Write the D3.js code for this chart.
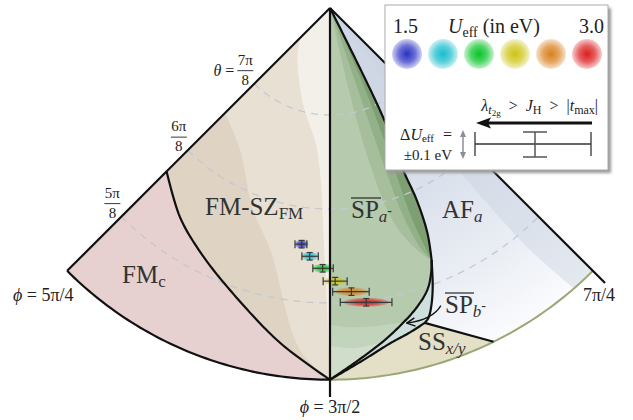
<!DOCTYPE html>
<html>
<head>
<meta charset="utf-8">
<script src="https://cdn.jsdelivr.net/npm/d3@7"></script>
<style>
body { margin: 0; background: #fff; }
text { font-family: "Liberation Serif", "DejaVu Serif", serif; fill: #222; }
</style>
</head>
<body>
<div id="chart"></div>
<script>
// angles are in units of pi: [phi, theta]
var phiLimits = [5/4, 3/2, 7/4];
var thetaEdge = 1/2;      // end of the phi axes
var thetaOuter = 0.523;   // outer rim of the coloured map
var thetaGrid = [7/8, 6/8, 5/8];
var thetaGridNum = ["7π", "6π", "5π"];

// phase boundaries
var fmcLine = [[1.25,0.710],[1.302,0.675],[1.344,0.650],[1.392,0.619],[1.453,0.567],[1.5,0.523]];
var spaUpper = [[1.5,1],[1.644,0.856],[1.635,0.781],[1.635,0.737],[1.630,0.691],[1.622,0.656]];
var spaLower = [[1.622,0.656],[1.616,0.640],[1.606,0.621],[1.590,0.603],[1.572,0.587],[1.550,0.568],[1.524,0.546],[1.5,0.523]];
var spbUpper = [[1.622,0.656],[1.612,0.621],[1.604,0.598],[1.598,0.585],[1.593,0.580]];
var spbLower = [[1.593,0.580],[1.577,0.573],[1.556,0.564],[1.530,0.547],[1.5,0.523]];
var ssLine = [[1.593,0.580],[1.645,0.523]];

// shading bands inside phases
var fmszBand1 = [[1.25,0.82],[1.32,0.794],[1.384,0.730],[1.423,0.686],[1.472,0.561],[1.5,0.523]];
var fmszBand2 = [[1.5,1],[1.26,0.949],[1.406,0.888],[1.471,0.828],[1.493,0.686],[1.5,0.523]];
var spaBands = [
  [[1.5,1],[1.572,0.9],[1.58,0.8],[1.592,0.72],[1.61,0.675],[1.622,0.656]],
  [[1.5,1],[1.605,0.9],[1.605,0.8],[1.608,0.72],[1.615,0.675],[1.622,0.656]],
  [[1.5,1],[1.63,0.9],[1.622,0.8],[1.618,0.72],[1.62,0.68],[1.622,0.656]]
];
var spaLight = [
  [[1.5,0.596],[1.52,0.592],[1.545,0.590],[1.575,0.588]],
  [[1.5,0.568],[1.52,0.564],[1.54,0.566],[1.555,0.569]]
];
var afBand = [[1.5,1],[1.71,0.85],[1.715,0.7],[1.72,0.6],[1.73,0.5]];

// U_eff results
var uLabels = ["1.5", "3.0"];
var uColors = ["#2a30c4", "#18bccc", "#06c426", "#cec414", "#d8801e", "#dc1c1c"];
var ptPhi     = [1.462, 1.474, 1.491, 1.506, 1.524, 1.539];
var ptTheta   = [0.701, 0.686, 0.671, 0.654, 0.639, 0.623];
var ptPhiLo   = [1.453, 1.464, 1.479, 1.492, 1.503, 1.511];
var ptPhiHi   = [1.469, 1.485, 1.504, 1.520, 1.544, 1.567];
var ptThetaErr = 0.005;

var W = 633, H = 420, cx = 330, cy = 8;
var svg = d3.select("#chart").append("svg").attr("width", W).attr("height", H);
var defs = svg.append("defs");

var rScale = d3.scaleLinear().domain([1, 7/8, 1/2]).range([0, 107, 389]);
var aScale = d3.scaleLinear().domain([5/4, 7/4]).range([-Math.PI / 4, Math.PI / 4]);

function proj(p) {
  var a = aScale(p[0]), r = rScale(p[1]);
  return [cx + r * Math.sin(a), cy + r * Math.cos(a)];
}
function arcPts(theta, p0, p1) {
  return d3.range(61).map(function(i) { return proj([p0 + (p1 - p0) * i / 60, theta]); });
}
var tmp = svg.append("path").attr("fill", "none");
function smooth(pts) {
  tmp.attr("d", d3.line().curve(d3.curveCatmullRom.alpha(0.5))(pts.map(proj)));
  var node = tmp.node(), L = node.getTotalLength(), out = [];
  for (var i = 0; i <= 80; i++) {
    var q = node.getPointAtLength(L * i / 80);
    out.push([q.x, q.y]);
  }
  return out;
}
var line = d3.line();
function poly(pts) { return line(pts) + "Z"; }

var apex = proj([1.5, 1]);
var cornerL = proj([phiLimits[0], thetaOuter]);

// region outlines
var fmcPts = [proj(fmcLine[0]), cornerL].concat(arcPts(thetaOuter, phiLimits[0], phiLimits[1]), smooth(fmcLine).reverse());
var fmszPts = [apex].concat(smooth(fmcLine));
var spaPts = smooth(spaUpper).concat(smooth(spaLower));
var spbPts = smooth(spbUpper).concat(smooth(spbLower), smooth(spaLower).reverse());
var ssPts = smooth(spbLower).concat(arcPts(thetaOuter, 1.5, ssLine[1][0]));
var afPts = [apex, proj([phiLimits[2], thetaOuter])]
  .concat(arcPts(thetaOuter, phiLimits[2], ssLine[1][0]), [proj(ssLine[0])],
          smooth(spbUpper).reverse(), smooth(spaUpper).reverse());

function clip(id, pts) {
  defs.append("clipPath").attr("id", id).append("path").attr("d", poly(pts));
}
clip("cFmsz", fmszPts);
clip("cSpa", spaPts);
clip("cAf", afPts);

var afGrad = defs.append("radialGradient").attr("id", "afGrad")
  .attr("gradientUnits", "userSpaceOnUse").attr("cx", cx).attr("cy", cy).attr("r", 372);
[[0.3, "#cfd7e5"], [0.55, "#dbe1ec"], [0.8, "#eaeef4"], [1, "#fafbfd"]].forEach(function(s) {
  afGrad.append("stop").attr("offset", s[0]).attr("stop-color", s[1]);
});

var fills = svg.append("g");
fills.append("path").attr("d", poly(fmcPts)).attr("fill", "#e6d0d0");
fills.append("path").attr("d", poly(fmszPts)).attr("fill", "#dfd4c4");
fills.append("path").attr("d", poly(smooth(fmszBand1).concat([apex]))).attr("fill", "#e8e0d3").attr("clip-path", "url(#cFmsz)");
fills.append("path").attr("d", poly(smooth(fmszBand2))).attr("fill", "#f3efe9").attr("clip-path", "url(#cFmsz)");

fills.append("path").attr("d", poly(afPts)).attr("fill", "url(#afGrad)");
fills.append("path").attr("d", poly(smooth(afBand).concat([proj([1.76, 0.5])]))).attr("fill", "#c9d2e1").attr("opacity", 0.45).attr("clip-path", "url(#cAf)");

fills.append("path").attr("d", poly(spaPts)).attr("fill", "#b6caae");
["#a6be9c", "#93b188", "#7d9f71"].forEach(function(c, i) {
  var pts = smooth(spaBands[i]).concat([proj([1.70, 0.62]), proj([1.70, 0.95])]);
  fills.append("path").attr("d", poly(pts)).attr("fill", c).attr("clip-path", "url(#cSpa)");
});
["#c3d4bd", "#d0ddcb"].forEach(function(c, i) {
  var pts = smooth(spaLight[i]).concat([proj([1.64, 0.56]), proj([1.58, 0.46]), proj([1.48, 0.46])]);
  fills.append("path").attr("d", poly(pts)).attr("fill", c).attr("clip-path", "url(#cSpa)");
});
fills.append("path").attr("d", poly(spbPts)).attr("fill", "#cde0de");
fills.append("path").attr("d", poly(ssPts)).attr("fill", "#e3e0c7");

// dashed theta circles
svg.append("g").selectAll("path").data(thetaGrid).join("path")
  .attr("d", function(t) { return line(arcPts(t, phiLimits[0], phiLimits[2])); })
  .attr("fill", "none").attr("stroke", "#c4c8cf").attr("stroke-width", 1.3)
  .attr("stroke-dasharray", "7,6");

// U_eff gradients
uColors.forEach(function(c, i) {
  var g = defs.append("radialGradient").attr("id", "ug" + i);
  g.append("stop").attr("offset", 0).attr("stop-color", c).attr("stop-opacity", 1);
  g.append("stop").attr("offset", 0.55).attr("stop-color", c).attr("stop-opacity", 0.7);
  g.append("stop").attr("offset", 1).attr("stop-color", c).attr("stop-opacity", 0.22);
});

// data points with error bars
var pts = svg.append("g");
ptPhi.forEach(function(ph, i) {
  var c = proj([ph, ptTheta[i]]);
  var xl = proj([ptPhiLo[i], ptTheta[i]])[0], xh = proj([ptPhiHi[i], ptTheta[i]])[0];
  var yt = proj([ph, ptTheta[i] + ptThetaErr])[1], yb = proj([ph, ptTheta[i] - ptThetaErr])[1];
  pts.append("ellipse").attr("cx", c[0]).attr("cy", c[1])
    .attr("rx", 0.4 * (xh - xl) + 2).attr("ry", 4.5).attr("fill", "url(#ug" + i + ")");
  var g = pts.append("g").attr("stroke", "#3a3a3a").attr("stroke-width", 1.2);
  g.append("line").attr("x1", xl).attr("x2", xh).attr("y1", c[1]).attr("y2", c[1]);
  g.append("line").attr("x1", xl).attr("x2", xl).attr("y1", c[1] - 4).attr("y2", c[1] + 4);
  g.append("line").attr("x1", xh).attr("x2", xh).attr("y1", c[1] - 4).attr("y2", c[1] + 4);
  g.append("line").attr("x1", c[0]).attr("x2", c[0]).attr("y1", yt).attr("y2", yb);
  g.append("line").attr("x1", c[0] - 3).attr("x2", c[0] + 3).attr("y1", yt).attr("y2", yt);
  g.append("line").attr("x1", c[0] - 3).attr("x2", c[0] + 3).attr("y1", yb).attr("y2", yb);
});

// boundaries
var bl = svg.append("g").attr("fill", "none").attr("stroke", "#111").attr("stroke-width", 2.2)
  .attr("stroke-linejoin", "round");
bl.append("path").attr("d", line(arcPts(thetaOuter, 1.5, phiLimits[2]))).attr("stroke", "#9aa878").attr("stroke-width", 2);
bl.append("path").attr("d", line(arcPts(thetaOuter, phiLimits[0], 1.5)));
bl.append("path").attr("d", line([apex, cornerL]));
bl.append("path").attr("d", line([apex, proj([phiLimits[2], thetaEdge])]));
bl.append("path").attr("d", line([apex, proj([1.5, thetaEdge])]));
bl.append("path").attr("d", line(smooth(fmcLine)));
bl.append("path").attr("d", line(smooth(spaUpper).concat(smooth(spaLower))));
bl.append("path").attr("d", line(smooth(spbUpper).concat(smooth(spbLower))));
bl.append("path").attr("d", line(ssLine.map(proj)));
tmp.remove();

// theta labels
var lab = svg.append("g");
thetaGrid.forEach(function(t, i) {
  var p = proj([phiLimits[0], t]), x = p[0] - 9, y = p[1] - 13;
  lab.append("text").attr("x", x).attr("y", y - 6).attr("text-anchor", "middle").attr("font-size", 15).text(thetaGridNum[i]);
  lab.append("line").attr("x1", x - 8).attr("x2", x + 8).attr("y1", y).attr("y2", y).attr("stroke", "#222").attr("stroke-width", 0.9);
  lab.append("text").attr("x", x).attr("y", y + 14).attr("text-anchor", "middle").attr("font-size", 15).text("8");
  if (i === 0) {
    var tt = lab.append("text").attr("x", x - 11).attr("y", y + 5).attr("text-anchor", "end").attr("font-size", 16);
    tt.append("tspan").attr("font-style", "italic").text("θ");
    tt.append("tspan").text(" =");
  }
});
var t1 = lab.append("text").attr("x", 13).attr("y", 301).attr("font-size", 18);
t1.append("tspan").attr("font-style", "italic").text("ϕ");
t1.append("tspan").text(" = 5π/4");
var t2 = lab.append("text").attr("x", 330).attr("y", 413).attr("font-size", 18).attr("text-anchor", "middle");
t2.append("tspan").attr("font-style", "italic").text("ϕ");
t2.append("tspan").text(" = 3π/2");
lab.append("text").attr("x", 583).attr("y", 301).attr("font-size", 18).text("7π/4");

// phase names
var reg = svg.append("g");
function phaseLabel(x, y, main, sub, sup, bar) {
  var t = reg.append("text").attr("x", x).attr("y", y).attr("font-size", 25).style("fill", "#333");
  t.append("tspan").text(main);
  t.append("tspan").attr("font-size", 17).attr("dy", 4).attr("font-style", sub.it ? "italic" : null).text(sub.s);
  if (sup) t.append("tspan").attr("font-size", 14).attr("dy", -7).text(sup);
  if (bar) reg.append("line").attr("x1", x).attr("x2", x + bar).attr("y1", y - 20).attr("y2", y - 20)
    .attr("stroke", "#333").attr("stroke-width", 1.3);
}
phaseLabel(122, 283, "FM", {s: "c"});
phaseLabel(205, 215, "FM-SZ", {s: "FM"});
phaseLabel(351, 218, "SP", {s: "a", it: true}, "-", 30);
phaseLabel(442, 218, "AF", {s: "a", it: true});
phaseLabel(445, 313, "SP", {s: "b", it: true}, "-", 29);
phaseLabel(418, 350, "SS", {s: "x/y", it: true});

defs.append("marker").attr("id", "openArrow").attr("viewBox", "0 0 10 10").attr("refX", 9).attr("refY", 5)
  .attr("markerWidth", 8).attr("markerHeight", 8).attr("orient", "auto-start-reverse")
  .append("path").attr("d", "M1,1 L9,5 L1,9").attr("fill", "none").attr("stroke", "#111").attr("stroke-width", 1.4);
var a0 = proj([1.6135, 0.595]), a1 = proj([1.576, 0.586]);
svg.append("path").attr("d", "M" + a0 + "Q" + [a0[0] - 8, a0[1] + 14] + " " + a1)
  .attr("fill", "none").attr("stroke", "#111").attr("stroke-width", 1.3).attr("marker-end", "url(#openArrow)");

// legend
var lg = svg.append("g");
defs.append("filter").attr("id", "blur").append("feGaussianBlur").attr("stdDeviation", 1.5);
lg.append("rect").attr("x", 388).attr("y", 8).attr("width", 223).attr("height", 165).attr("fill", "#999").attr("filter", "url(#blur)");
lg.append("rect").attr("x", 385).attr("y", 5).attr("width", 223).attr("height", 165).attr("fill", "#fff").attr("stroke", "#aaa");
lg.append("text").attr("x", 393).attr("y", 33).attr("font-size", 20).text(uLabels[0]);
lg.append("text").attr("x", 604).attr("y", 33).attr("font-size", 20).attr("text-anchor", "end").text(uLabels[1]);
var ut = lg.append("text").attr("x", 448).attr("y", 33).attr("font-size", 20);
ut.append("tspan").attr("font-style", "italic").text("U");
ut.append("tspan").attr("font-size", 14).attr("dy", 4).text("eff");
ut.append("tspan").attr("dy", -4).text(" (in eV)");
lg.selectAll("circle").data(uColors).join("circle")
  .attr("cx", function(d, i) { return 407 + 36 * i; }).attr("cy", 54).attr("r", 15)
  .attr("fill", function(d, i) { return "url(#ug" + i + ")"; });

var lt = lg.append("text").attr("x", 598).attr("y", 111).attr("font-size", 16).attr("text-anchor", "end");
lt.append("tspan").attr("font-style", "italic").text("λ");
lt.append("tspan").attr("font-style", "italic").attr("font-size", 12).attr("dy", 3).text("t");
lt.append("tspan").attr("font-size", 9).attr("dy", 2).text("2g");
lt.append("tspan").attr("dy", -5).attr("dx", 4).text(" > ");
lt.append("tspan").attr("font-style", "italic").attr("dx", 4).text("J");
lt.append("tspan").attr("font-size", 12).attr("dy", 3).text("H");
lt.append("tspan").attr("dy", -3).attr("dx", 4).text(" > ");
lt.append("tspan").attr("dx", 4).text("|");
lt.append("tspan").attr("font-style", "italic").text("t");
lt.append("tspan").attr("font-size", 12).attr("dy", 3).text("max");
lt.append("tspan").attr("dy", -3).text("|");
lg.append("line").attr("x1", 488).attr("x2", 592).attr("y1", 123).attr("y2", 123).attr("stroke", "#111").attr("stroke-width", 3);
lg.append("path").attr("d", "M476,123 L491,117.5 L488,123 L491,128.5Z").attr("fill", "#111");

var dt = lg.append("text").attr("x", 452).attr("y", 140).attr("font-size", 16).attr("text-anchor", "end");
dt.append("tspan").text("Δ");
dt.append("tspan").attr("font-style", "italic").text("U");
dt.append("tspan").attr("font-size", 11).attr("dy", 2).text("eff");
dt.append("tspan").attr("dy", -2).attr("dx", 5).text(" =");
lg.append("text").attr("x", 452).attr("y", 160).attr("font-size", 15).attr("text-anchor", "end").text("±0.1 eV");
lg.append("line").attr("x1", 463).attr("x2", 463).attr("y1", 135).attr("y2", 154).attr("stroke", "#8a909a").attr("stroke-width", 1.5);
lg.append("path").attr("d", "M463,130 L460,137 L466,137Z M463,159 L460,152 L466,152Z").attr("fill", "#8a909a");

var eb = lg.append("g").attr("stroke", "#333").attr("stroke-width", 1.3);
eb.append("line").attr("x1", 475).attr("x2", 591).attr("y1", 144).attr("y2", 144);
eb.append("line").attr("x1", 475).attr("x2", 475).attr("y1", 132).attr("y2", 156);
eb.append("line").attr("x1", 591).attr("x2", 591).attr("y1", 132).attr("y2", 156);
var ib = lg.append("g").attr("stroke", "#555").attr("stroke-width", 1.5);
ib.append("line").attr("x1", 535).attr("x2", 535).attr("y1", 132).attr("y2", 157);
ib.append("line").attr("x1", 523).attr("x2", 547).attr("y1", 132).attr("y2", 132);
ib.append("line").attr("x1", 523).attr("x2", 547).attr("y1", 157).attr("y2", 157);
</script>
</body>
</html>
